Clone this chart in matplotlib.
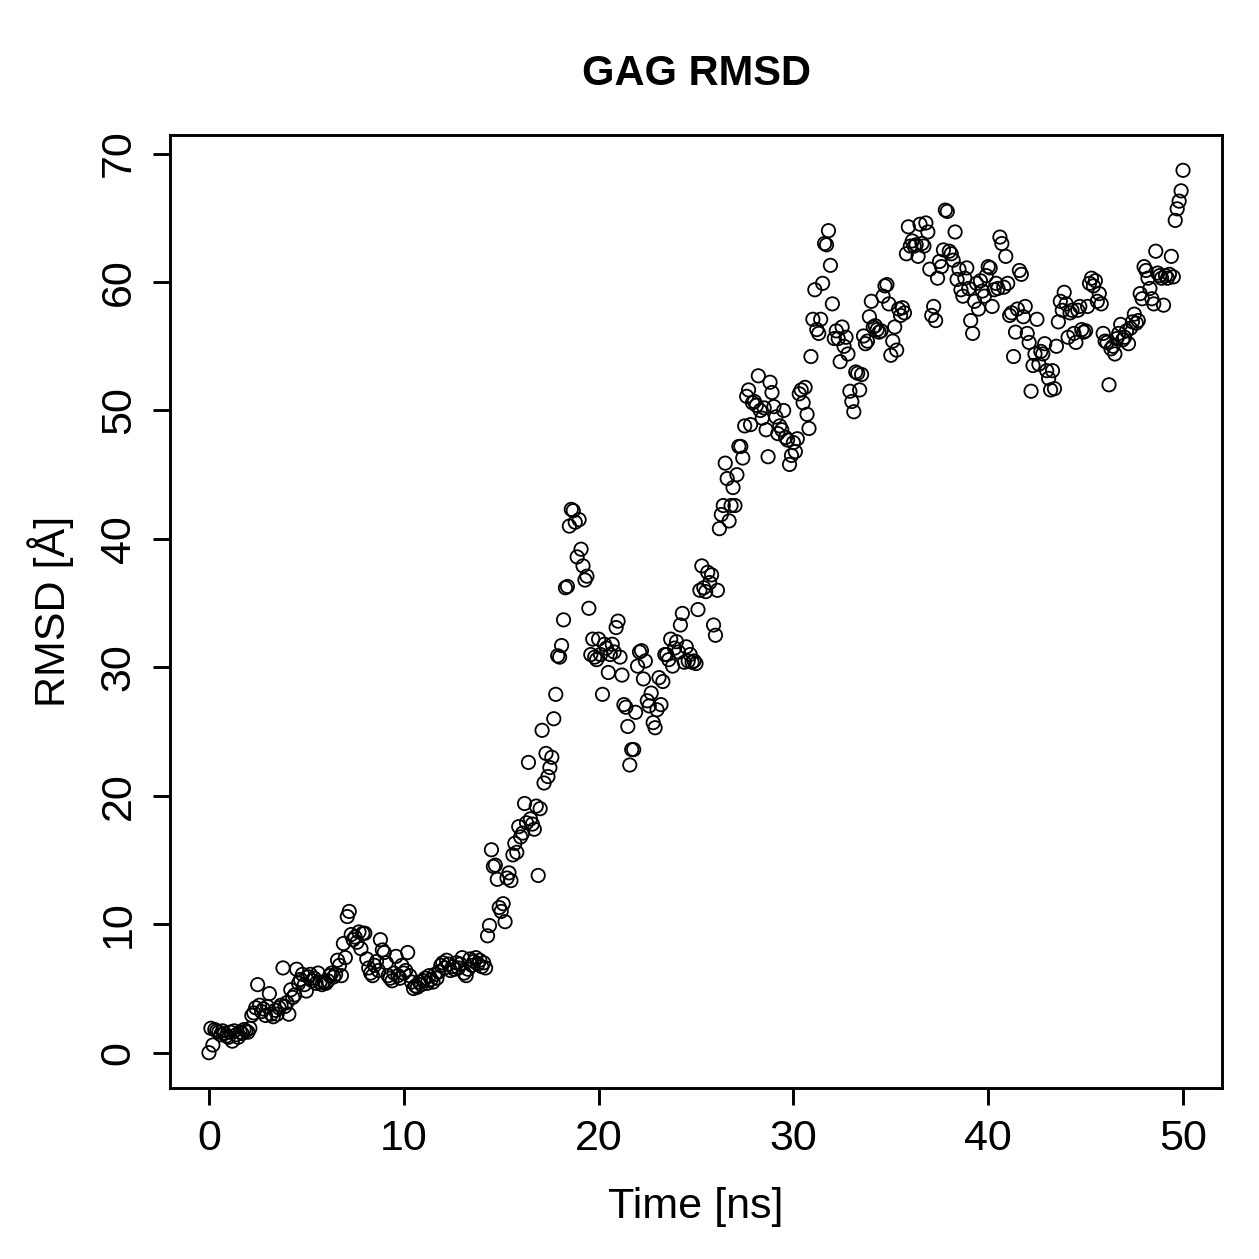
import numpy as np
import matplotlib
matplotlib.use("Agg")
import matplotlib.pyplot as plt

# RMSD values (Å), one list per nanosecond, sampled every 0.1 ns
rmsd_0_10 = [
    0.0, 1.9, 0.6, 1.8, 1.7, 1.6, 1.4, 1.7, 1.5, 1.3,
    1.2, 1.6, 0.9, 1.7, 1.4, 1.2, 1.6, 1.5, 1.8, 1.7,
    1.6, 1.9, 2.9, 3.1, 3.5, 5.3, 3.7, 3.2, 3.4, 2.9,
    3.6, 4.6, 3.0, 2.8, 3.3, 3.0, 3.5, 3.7, 6.6, 3.6,
    3.9, 3.0, 4.9, 4.3, 4.5, 6.5, 5.4, 5.7, 6.1, 5.3,
    4.8, 5.9, 6.1, 5.6, 5.8, 5.4, 6.2, 5.5, 5.3, 5.5,
    5.4, 5.6, 6.0, 6.2, 5.9, 6.1, 7.2, 6.8, 6.0, 8.5,
    7.4, 10.6, 11.0, 9.2, 8.8, 9.0, 8.6, 9.4, 8.1, 9.3,
    9.3, 7.3, 6.6, 6.2, 6.0, 6.8, 7.1, 6.4, 8.8, 8.0,
    7.8, 7.0, 6.0, 5.8, 5.6, 6.2, 7.5, 6.0, 5.8, 6.8,
]
rmsd_10_20 = [
    6.2, 6.4, 7.8, 6.0, 5.5, 5.0, 5.2, 5.1, 5.5, 5.3,
    5.6, 5.8, 5.4, 6.0, 5.7, 5.5, 6.1, 5.8, 6.3, 6.8,
    7.0, 6.6, 7.2, 6.9, 6.4, 6.7, 6.5, 7.0, 6.6, 6.9,
    7.4, 6.2, 6.0, 6.5, 7.3, 6.8, 7.1, 7.4, 6.9, 7.2,
    6.7, 7.0, 6.6, 9.1, 9.9, 15.8, 14.5, 14.6, 13.5, 11.3,
    11.0, 11.6, 10.2, 13.6, 14.0, 13.4, 15.4, 16.3, 15.6, 17.6,
    16.8, 17.1, 19.4, 17.9, 22.6, 18.2, 17.8, 17.4, 19.2, 13.8,
    19.0, 25.1, 21.0, 23.3, 21.5, 22.2, 23.0, 26.0, 27.9, 30.9,
    30.8, 31.7, 33.7, 36.2, 36.3, 41.0, 42.3, 42.2, 41.3, 38.6,
    41.5, 39.2, 37.9, 36.8, 37.1, 34.6, 31.0, 32.2, 30.8, 30.6,
]
rmsd_20_30 = [
    32.2, 31.0, 27.9, 31.8, 31.5, 29.6, 31.0, 31.8, 31.2, 33.1,
    33.6, 30.8, 29.4, 27.1, 26.9, 25.4, 22.4, 23.6, 23.6, 26.5,
    30.1, 31.2, 31.3, 29.1, 30.5, 27.4, 27.0, 28.0, 25.7, 25.3,
    26.7, 29.2, 27.1, 28.9, 31.0, 31.0, 30.6, 32.2, 30.1, 31.5,
    32.0, 31.2, 33.3, 34.2, 30.4, 31.6, 30.5, 31.0, 30.4, 30.5,
    30.3, 34.5, 36.0, 37.9, 36.2, 35.9, 37.4, 36.6, 37.2, 33.3,
    32.5, 36.0, 40.8, 41.9, 42.6, 45.9, 44.7, 41.4, 42.6, 44.0,
    42.6, 45.0, 47.2, 47.2, 46.3, 48.8, 51.1, 51.6, 48.9, 50.6,
    50.7, 50.4, 52.7, 50.0, 49.4, 50.2, 48.5, 46.4, 52.2, 51.4,
    50.3, 49.5, 48.2, 48.8, 48.5, 50.0, 47.9, 47.7, 45.8, 46.5,
]
rmsd_30_40 = [
    47.5, 46.8, 47.8, 51.3, 51.6, 50.6, 51.8, 49.7, 48.6, 54.2,
    57.1, 59.4, 56.3, 56.0, 57.1, 59.9, 63.0, 62.9, 64.0, 61.3,
    58.3, 55.6, 56.2, 55.6, 53.8, 56.5, 55.0, 55.7, 54.4, 51.5,
    50.7, 49.9, 53.0, 52.9, 51.6, 52.8, 55.8, 55.2, 55.4, 57.3,
    58.5, 56.5, 56.6, 56.3, 56.1, 56.2, 58.9, 59.7, 59.8, 58.3,
    54.3, 55.4, 56.5, 54.7, 57.9, 57.4, 58.0, 57.6, 62.2, 64.3,
    62.8, 63.2, 62.8, 62.9, 62.0, 64.5, 63.0, 62.8, 64.6, 63.9,
    61.0, 57.4, 58.1, 57.0, 60.3, 61.6, 61.2, 62.5, 65.6, 65.5,
    62.4, 62.2, 61.7, 63.9, 60.2, 61.0, 59.4, 58.9, 60.3, 61.1,
    59.5, 57.0, 56.0, 58.5, 59.9, 57.9, 60.1, 59.3, 58.9, 60.5,
]
rmsd_40_50 = [
    61.2, 61.1, 58.1, 59.4, 59.9, 59.5, 63.5, 63.0, 59.6, 62.0,
    59.9, 57.4, 57.6, 54.2, 56.1, 57.9, 60.9, 60.6, 57.3, 58.1,
    56.0, 55.3, 51.5, 53.5, 54.4, 57.1, 53.6, 54.6, 54.4, 55.2,
    53.1, 52.5, 51.6, 53.1, 51.7, 55.0, 56.9, 58.5, 57.8, 59.2,
    58.3, 55.7, 57.6, 57.8, 56.0, 55.3, 57.8, 58.1, 56.3, 56.1,
    56.2, 58.1, 59.9, 60.3, 59.7, 60.1, 58.5, 59.1, 58.3, 56.0,
    55.4, 55.3, 52.0, 54.8, 55.0, 54.4, 55.6, 56.0, 56.7, 55.5,
    55.7, 56.2, 55.2, 56.4, 56.9, 57.5, 56.8, 57.0, 59.1, 58.7,
    61.2, 60.9, 60.3, 59.5, 58.7, 58.3, 62.4, 60.7, 60.5, 60.3,
    58.2, 60.5, 60.3, 60.6, 62.0, 60.4, 64.8, 65.7, 66.3, 67.1,
    68.7,
]
rmsd = np.array(rmsd_0_10 + rmsd_10_20 + rmsd_20_30 + rmsd_30_40 + rmsd_40_50)
time_ns = np.arange(len(rmsd)) * 0.1

x_ticks = [0, 10, 20, 30, 40, 50]
y_ticks = [0, 10, 20, 30, 40, 50, 60, 70]

plt.rcParams['font.family'] = ['Liberation Sans', 'DejaVu Sans']

fig = plt.figure(figsize=(12.59, 12.59), dpi=100)
ax = fig.add_axes([170/1259, 1 - 1088/1259, (1222-170)/1259, (1088-135)/1259])

ax.scatter(time_ns, rmsd, s=9.6**2, facecolors='none', edgecolors='black', linewidths=1.3)

ax.set_xlim(-2, 52)
ymax = rmsd.max()
ax.set_ylim(-0.04 * ymax, 1.04 * ymax)
ax.set_xticks(x_ticks)
ax.set_yticks(y_ticks)
ax.set_yticklabels([str(v) for v in y_ticks], rotation=90, va='center')
ax.tick_params(direction='out', length=12.5, width=2.1, labelsize=31, pad=10, colors='black')
for s in ax.spines.values():
    s.set_linewidth(2.1)

ax.set_xlabel('Time [ns]', fontsize=31, labelpad=20)
ax.set_ylabel('RMSD [Å]', fontsize=31, labelpad=18)
ax.set_title('GAG RMSD', fontsize=30, fontweight='bold', pad=36)

fig.savefig('out.png', dpi=100)
